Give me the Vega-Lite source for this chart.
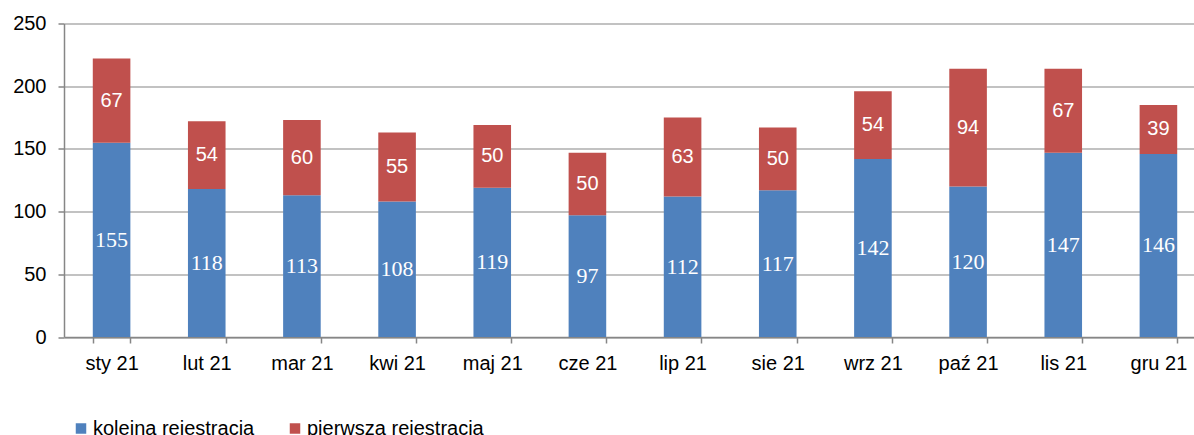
{
  "$schema": "https://vega.github.io/schema/vega-lite/v6.json",
  "autosize": {"type": "none"},
  "width": 1130,
  "height": 313.5,
  "padding": {"left": 64, "top": 23.5, "right": 0, "bottom": 98},
  "background": "white",
  "config": {
    "view": {"stroke": null},
    "font": "Liberation Sans"
  },
  "data": {
    "values": [
      {"m": "sty 21", "s": "kolejna rejestracja", "v": 155},
      {"m": "lut 21", "s": "kolejna rejestracja", "v": 118},
      {"m": "mar 21", "s": "kolejna rejestracja", "v": 113},
      {"m": "kwi 21", "s": "kolejna rejestracja", "v": 108},
      {"m": "maj 21", "s": "kolejna rejestracja", "v": 119},
      {"m": "cze 21", "s": "kolejna rejestracja", "v": 97},
      {"m": "lip 21", "s": "kolejna rejestracja", "v": 112},
      {"m": "sie 21", "s": "kolejna rejestracja", "v": 117},
      {"m": "wrz 21", "s": "kolejna rejestracja", "v": 142},
      {"m": "paź 21", "s": "kolejna rejestracja", "v": 120},
      {"m": "lis 21", "s": "kolejna rejestracja", "v": 147},
      {"m": "gru 21", "s": "kolejna rejestracja", "v": 146},
      {"m": "sty 21", "s": "pierwsza rejestracja", "v": 67},
      {"m": "lut 21", "s": "pierwsza rejestracja", "v": 54},
      {"m": "mar 21", "s": "pierwsza rejestracja", "v": 60},
      {"m": "kwi 21", "s": "pierwsza rejestracja", "v": 55},
      {"m": "maj 21", "s": "pierwsza rejestracja", "v": 50},
      {"m": "cze 21", "s": "pierwsza rejestracja", "v": 50},
      {"m": "lip 21", "s": "pierwsza rejestracja", "v": 63},
      {"m": "sie 21", "s": "pierwsza rejestracja", "v": 50},
      {"m": "wrz 21", "s": "pierwsza rejestracja", "v": 54},
      {"m": "paź 21", "s": "pierwsza rejestracja", "v": 94},
      {"m": "lis 21", "s": "pierwsza rejestracja", "v": 67},
      {"m": "gru 21", "s": "pierwsza rejestracja", "v": 39}
    ]
  },
  "encoding": {
    "x": {
      "field": "m",
      "type": "nominal",
      "sort": null,
      "title": null,
      "scale": {"range": [0, 1142], "paddingInner": 0.605, "paddingOuter": 0.3025},
      "axis": {
        "labelAngle": 0,
        "labelFontSize": 20,
        "labelColor": "#000000",
        "labelPadding": 10,
        "tickBand": "extent",
        "tickSize": 6,
        "tickColor": "#868686",
        "domainColor": "#868686",
        "domainWidth": 1.5,
        "tickWidth": 1.5
      }
    },
    "y": {
      "field": "v",
      "type": "quantitative",
      "stack": "zero",
      "title": null,
      "scale": {"domain": [0, 250], "nice": false},
      "axis": {
        "values": [0, 50, 100, 150, 200, 250],
        "labelFontSize": 20,
        "labelColor": "#000000",
        "labelPadding": 12,
        "tickSize": 6,
        "tickColor": "#868686",
        "domainColor": "#868686",
        "domainWidth": 1.5,
        "tickWidth": 1.5,
        "gridColor": "#868686",
        "gridWidth": 1.2
      }
    },
    "order": {"field": "s", "sort": "ascending"}
  },
  "layer": [
    {
      "mark": {"type": "bar"},
      "encoding": {
        "color": {
          "field": "s",
          "type": "nominal",
          "title": null,
          "scale": {
            "domain": ["kolejna rejestracja", "pierwsza rejestracja"],
            "range": ["#4F81BD", "#C0504D"]
          },
          "legend": {
            "orient": "none",
            "direction": "horizontal",
            "legendX": 7,
            "legendY": 395,
            "symbolType": "square",
            "symbolSize": 110,
            "symbolStrokeWidth": 0,
            "labelFontSize": 20,
            "labelColor": "#000000",
            "labelOffset": 2,
            "labelLimit": 0,
            "columnPadding": 30
          }
        }
      }
    },
    {
      "mark": {"type": "text", "color": "white", "fontSize": 20, "font": "Liberation Sans", "baseline": "middle"},
      "encoding": {
        "y": {"field": "v", "type": "quantitative", "stack": "zero", "bandPosition": 0.5},
        "text": {"condition": {"test": "datum.s === 'pierwsza rejestracja'", "field": "v", "type": "quantitative"}, "value": ""}
      }
    },
    {
      "mark": {"type": "text", "color": "white", "fontSize": 22, "font": "Liberation Serif", "baseline": "middle"},
      "encoding": {
        "y": {"field": "v", "type": "quantitative", "stack": "zero", "bandPosition": 0.5},
        "text": {"condition": {"test": "datum.s === 'kolejna rejestracja'", "field": "v", "type": "quantitative"}, "value": ""}
      }
    }
  ]
}
